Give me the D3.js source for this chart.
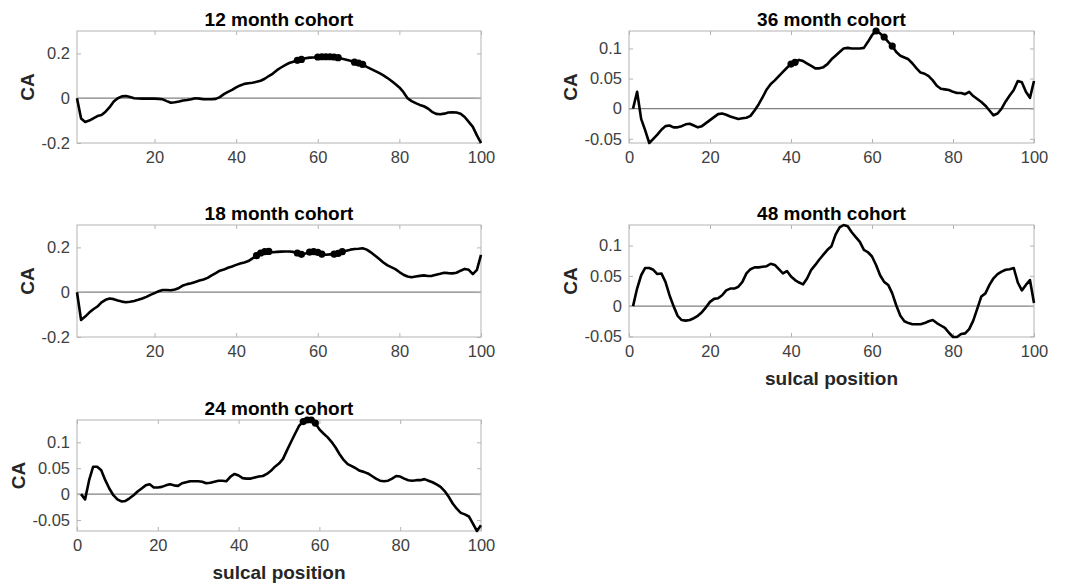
<!DOCTYPE html>
<html>
<head>
<meta charset="utf-8">
<script src="https://cdn.jsdelivr.net/npm/d3@7"></script>
<style>
  body { margin: 0; background: #fff; }
  svg { font-family: "Liberation Sans", Arial, sans-serif; }
</style>
</head>
<body>
<div id="chart"></div>
<script>
// sulcal positions 1..100
const position = d3.range(1, 101);

// CA values per cohort (index 1..100)
const ca12 = [
  0, -0.091, -0.106, -0.1, -0.09, -0.08, -0.075, -0.06, -0.04, -0.015,
  0.0, 0.008, 0.01, 0.005, 0, -0.001, -0.002, -0.002, -0.001, -0.002,
  -0.003, -0.005, -0.013, -0.02, -0.018, -0.015, -0.01, -0.008, -0.005, 0,
  -0.002, -0.005, -0.005, -0.005, -0.003, 0.005, 0.018, 0.028, 0.037, 0.048,
  0.057, 0.064, 0.067, 0.069, 0.073, 0.078, 0.087, 0.099, 0.11, 0.125,
  0.137, 0.148, 0.157, 0.163, 0.169, 0.173, 0.178, 0.181, 0.182, 0.184,
  0.185, 0.185, 0.185, 0.184, 0.181, 0.176, 0.172, 0.167, 0.161, 0.157,
  0.151, 0.14, 0.131, 0.122, 0.113, 0.103, 0.091, 0.078, 0.063, 0.048,
  0.027, 0.0, -0.013, -0.022, -0.03, -0.036, -0.046, -0.061, -0.07, -0.072,
  -0.069, -0.064, -0.063, -0.064, -0.069, -0.084, -0.106, -0.128, -0.166, -0.2
];
const ca18 = [
  0, -0.124, -0.109, -0.091, -0.076, -0.064, -0.045, -0.034, -0.028, -0.031,
  -0.037, -0.042, -0.045, -0.043, -0.039, -0.034, -0.028, -0.021, -0.012, -0.004,
  0.004, 0.01, 0.01, 0.009, 0.012, 0.019, 0.03, 0.036, 0.04, 0.046,
  0.052, 0.057, 0.064, 0.075, 0.085, 0.096, 0.101, 0.109, 0.115, 0.122,
  0.128, 0.133, 0.139, 0.151, 0.163, 0.175, 0.181, 0.182, 0.178, 0.18,
  0.181, 0.182, 0.182, 0.18, 0.175, 0.169, 0.173, 0.179, 0.181, 0.178,
  0.17, 0.167, 0.169, 0.17, 0.173, 0.181, 0.185, 0.19, 0.193, 0.194,
  0.196, 0.19, 0.178, 0.164, 0.149, 0.134, 0.121, 0.112, 0.103, 0.09,
  0.078, 0.07, 0.067, 0.07, 0.073, 0.075, 0.072, 0.073, 0.078, 0.082,
  0.087, 0.085, 0.084, 0.087, 0.096, 0.104, 0.1, 0.081, 0.1, 0.167
];
const ca24 = [
  0, -0.01, 0.027, 0.053, 0.053, 0.046, 0.027, 0.011, -0.002, -0.01,
  -0.014, -0.013, -0.008, -0.002, 0.005, 0.011, 0.017, 0.019, 0.013, 0.013,
  0.014, 0.017, 0.019, 0.017, 0.016, 0.021, 0.023, 0.025, 0.025, 0.025,
  0.024, 0.021, 0.022, 0.024, 0.026, 0.026, 0.025, 0.034, 0.039, 0.036,
  0.031, 0.03, 0.03, 0.032, 0.034, 0.035, 0.039, 0.045, 0.053, 0.059,
  0.068, 0.085, 0.101, 0.117, 0.132, 0.14, 0.143, 0.143, 0.137, 0.125,
  0.117, 0.11, 0.101, 0.09, 0.077, 0.066, 0.058, 0.054, 0.05, 0.045,
  0.043, 0.04, 0.035, 0.03, 0.026, 0.025, 0.026, 0.03, 0.035, 0.034,
  0.03, 0.027, 0.026, 0.027, 0.027, 0.029, 0.026, 0.023, 0.019, 0.014,
  0.006, -0.005, -0.018, -0.028, -0.036, -0.039, -0.043, -0.057, -0.071, -0.06
];
const ca36 = [
  0, 0.028, -0.017, -0.036, -0.057, -0.05, -0.043, -0.035, -0.029, -0.028,
  -0.031, -0.031, -0.029, -0.026, -0.025, -0.028, -0.031, -0.029, -0.024, -0.019,
  -0.014, -0.009, -0.008, -0.01, -0.013, -0.015, -0.017, -0.016, -0.015, -0.012,
  -0.003, 0.007, 0.019, 0.032, 0.041, 0.047, 0.054, 0.061, 0.068, 0.074,
  0.077, 0.081, 0.079, 0.075, 0.071, 0.067, 0.067, 0.069, 0.074, 0.082,
  0.088, 0.094, 0.1, 0.101, 0.1, 0.1, 0.1, 0.101, 0.111, 0.122,
  0.129, 0.125, 0.119, 0.111, 0.104, 0.094, 0.088, 0.085, 0.082, 0.075,
  0.067, 0.06, 0.058, 0.054, 0.047, 0.038, 0.033, 0.032, 0.031, 0.028,
  0.026, 0.026, 0.024, 0.028, 0.021, 0.016, 0.011, 0.005, -0.003, -0.011,
  -0.008, 0.0, 0.012, 0.022, 0.031, 0.046, 0.044, 0.028, 0.018, 0.046
];
const ca48 = [
  0, 0.029, 0.051, 0.063, 0.063, 0.06, 0.053, 0.054, 0.04, 0.018,
  0, -0.016, -0.023, -0.024, -0.023, -0.02, -0.016, -0.01, -0.002, 0.007,
  0.012, 0.013, 0.018, 0.026, 0.029, 0.029, 0.032, 0.04, 0.054, 0.061,
  0.064, 0.064, 0.065, 0.066, 0.07, 0.068, 0.061, 0.054, 0.058, 0.049,
  0.043, 0.039, 0.036, 0.046, 0.06, 0.068, 0.077, 0.085, 0.093, 0.099,
  0.118, 0.13, 0.134, 0.132, 0.122, 0.114, 0.106, 0.093, 0.089, 0.082,
  0.068, 0.051, 0.04, 0.035, 0.021, 0.001, -0.016, -0.025, -0.028, -0.03,
  -0.03, -0.03, -0.028, -0.025, -0.023, -0.028, -0.032, -0.036, -0.044, -0.051,
  -0.051, -0.046, -0.045, -0.038, -0.024, -0.004, 0.016, 0.021, 0.035, 0.046,
  0.053, 0.057, 0.06, 0.061, 0.063, 0.039, 0.026, 0.035, 0.043, 0.005
];

// significant positions (marked with dots)
const sig12 = [55, 56, 60, 61, 62, 63, 64, 65, 69, 70, 71];
const sig18 = [45, 46, 47, 48, 55, 56, 58, 59, 60, 61, 64, 65, 66];
const sig24 = [56, 57, 58, 59];
const sig36 = [40, 41, 61, 63, 65];
const sig48 = [];

// tick values
const xTicks = [0, 20, 40, 60, 80, 100];
const yTicksWide = [-0.2, 0, 0.2];
const yTicksNarrow = [-0.05, 0, 0.05, 0.1];

// panel layout: [left, top, width, height]
const panels = [
  { title: "12 month cohort", values: ca12, sig: sig12, xLim: [1, 100], yLim: [-0.2, 0.3], yTicks: yTicksWide, box: [77, 31, 404, 112], xLabel: false },
  { title: "36 month cohort", values: ca36, sig: sig36, xLim: [0, 100], yLim: null, yTicks: yTicksNarrow, box: [629, 31, 405, 112], xLabel: false },
  { title: "18 month cohort", values: ca18, sig: sig18, xLim: [1, 100], yLim: [-0.2, 0.3], yTicks: yTicksWide, box: [77, 225, 404, 112], xLabel: false },
  { title: "48 month cohort", values: ca48, sig: sig48, xLim: [0, 100], yLim: null, yTicks: yTicksNarrow, box: [629, 225, 405, 112], xLabel: true },
  { title: "24 month cohort", values: ca24, sig: sig24, xLim: [0, 100], yLim: null, yTicks: yTicksNarrow, box: [77, 420, 404, 111], xLabel: true }
];

const svg = d3.select("#chart")
  .append("svg")
  .attr("width", 1065)
  .attr("height", 586);

const fmt = d => String(d);
const boxColor = "#b4b4b4";
const tickTextColor = "#404040";

panels.forEach(p => {
  const [left, top, w, h] = p.box;
  const x = d3.scaleLinear().domain(p.xLim).range([0, w]);
  const y = d3.scaleLinear().domain(p.yLim || d3.extent(p.values)).range([h, 0]);
  const xt = xTicks.filter(t => t >= p.xLim[0] && t <= p.xLim[1]);

  const g = svg.append("g").attr("transform", `translate(${left},${top})`);

  // zero reference line
  g.append("line")
    .attr("x1", 0).attr("x2", w)
    .attr("y1", y(0)).attr("y2", y(0))
    .attr("stroke", "#808080")
    .attr("stroke-width", 1.2);

  // axes, ticks pointing inward on all four sides
  g.append("g")
    .attr("transform", `translate(0,${h})`)
    .call(d3.axisBottom(x).tickValues(xt).tickSize(-4).tickPadding(8).tickFormat(fmt));
  g.append("g")
    .call(d3.axisTop(x).tickValues(xt).tickSize(-4).tickFormat(""));
  const leftAxis = g.append("g")
    .call(d3.axisLeft(y).tickValues(p.yTicks).tickSize(-4).tickPadding(7).tickFormat(fmt));
  g.append("g")
    .attr("transform", `translate(${w},0)`)
    .call(d3.axisRight(y).tickValues(p.yTicks).tickSize(-4).tickFormat(""));

  g.selectAll(".domain").remove();
  g.selectAll(".tick line").attr("stroke", boxColor);
  g.selectAll(".tick text")
    .attr("fill", tickTextColor)
    .attr("font-size", 16.5)
    .attr("font-family", "Liberation Sans, Arial, sans-serif");

  // box
  g.append("rect")
    .attr("width", w).attr("height", h)
    .attr("fill", "none")
    .attr("stroke", boxColor)
    .attr("stroke-width", 1);

  // data line
  const line = d3.line()
    .x((d, i) => x(position[i]))
    .y(d => y(d));
  g.append("path")
    .datum(p.values)
    .attr("d", line)
    .attr("fill", "none")
    .attr("stroke", "#000")
    .attr("stroke-width", 2.6)
    .attr("stroke-linejoin", "round");

  // significance markers
  g.selectAll("circle.sig")
    .data(p.sig)
    .enter()
    .append("circle")
    .attr("class", "sig")
    .attr("cx", d => x(d))
    .attr("cy", d => y(p.values[d - 1]))
    .attr("r", 3.6)
    .attr("fill", "#000");

  // title
  g.append("text")
    .attr("x", w / 2)
    .attr("y", -5)
    .attr("text-anchor", "middle")
    .attr("font-size", 19)
    .attr("font-weight", "bold")
    .attr("fill", "#000")
    .text(p.title);

  // y label placed left of the widest tick label
  let maxW = 0;
  leftAxis.selectAll("text").each(function() {
    maxW = Math.max(maxW, this.getBBox().width);
  });
  g.append("text")
    .attr("transform", `translate(${-7 - maxW - 14},${h / 2}) rotate(-90)`)
    .attr("dy", "0.35em")
    .attr("text-anchor", "middle")
    .attr("font-size", 19)
    .attr("font-weight", "bold")
    .attr("fill", "#262626")
    .text("CA");

  if (p.xLabel) {
    g.append("text")
      .attr("x", w / 2)
      .attr("y", h + 48)
      .attr("text-anchor", "middle")
      .attr("font-size", 19)
      .attr("font-weight", "bold")
      .attr("fill", "#262626")
      .text("sulcal position");
  }
});
</script>
</body>
</html>
